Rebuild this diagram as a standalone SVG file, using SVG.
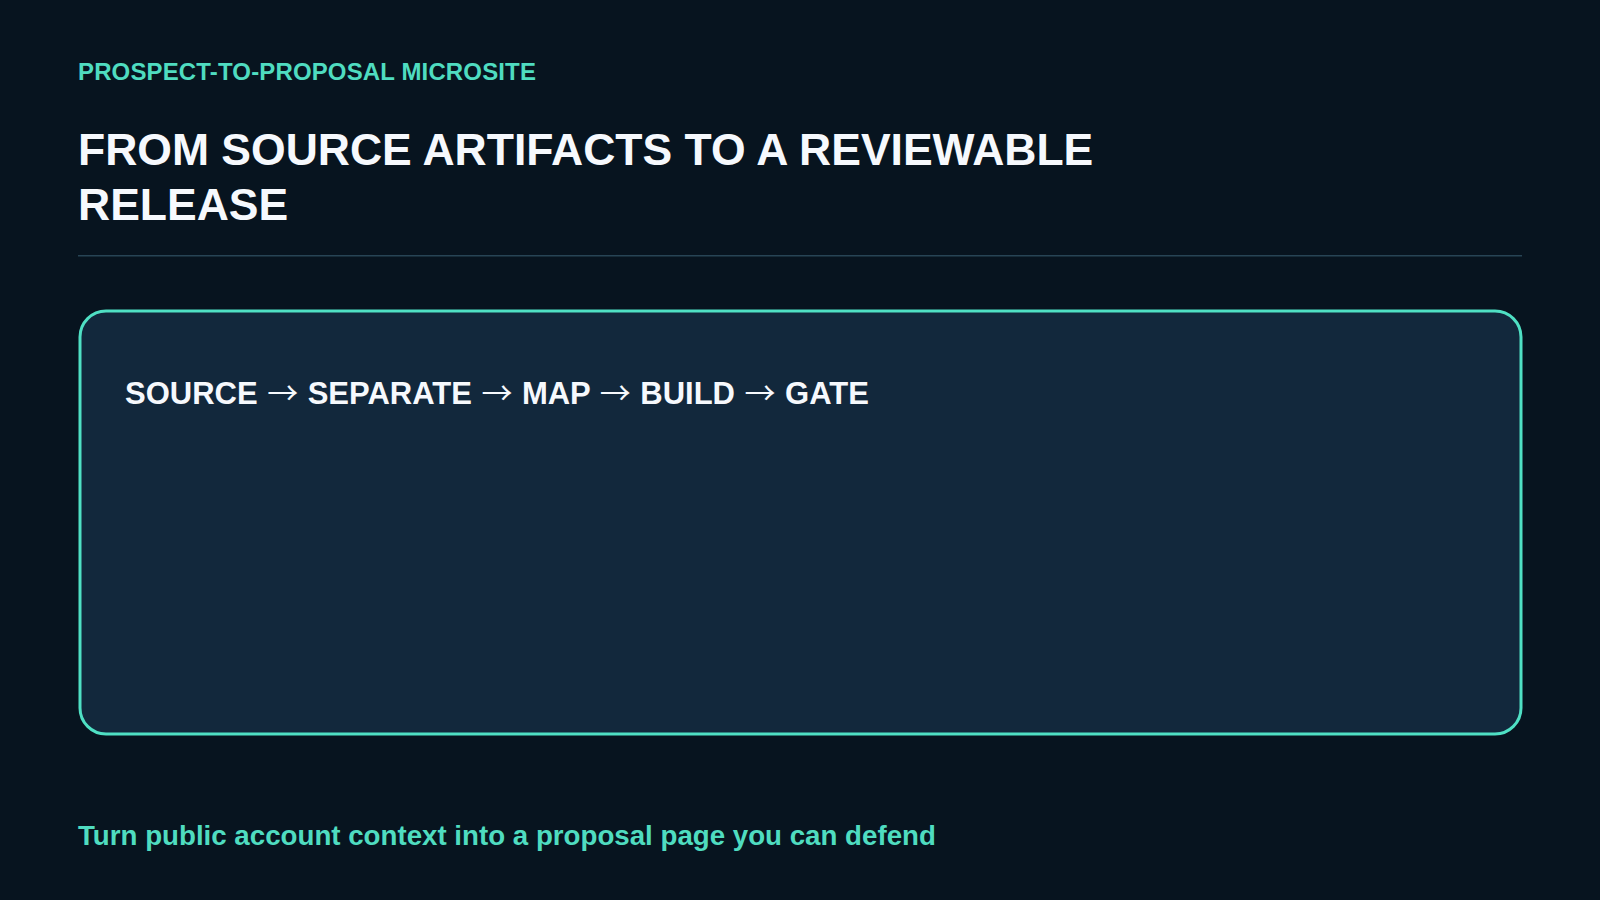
<svg xmlns="http://www.w3.org/2000/svg" width="1600" height="900" viewBox="0 0 1600 900">
  <style>
    .f { font-family: "Liberation Sans", Arial, sans-serif; font-weight: 700; }
    .eyebrow { font-size: 24px; letter-spacing: 0.14px; fill: #4fdcc0; }
    .title { font-size: 44.5px; fill: #f6f9fd; }
    .flow { font-size: 31px; word-spacing: 0.9px; fill: #f6f9fd; }
    .arr { font-family: "Noto Sans CJK SC", sans-serif; font-weight: 400; }
    .foot { font-size: 27.7px; fill: #4fdcc0; }
  </style>
  <rect x="0" y="0" width="1600" height="900" fill="#07141f"/>
  <g id="header">
    <text class="f eyebrow" x="78" y="80">PROSPECT-TO-PROPOSAL MICROSITE</text>
    <text class="f title" x="78" y="165">FROM SOURCE ARTIFACTS TO A REVIEWABLE</text>
    <text class="f title" x="78" y="220">RELEASE</text>
    <rect x="78" y="255" width="1444" height="1.5" fill="#274455"/>
  </g>
  <g id="panel">
    <rect x="80" y="311" width="1441" height="423" rx="26" ry="26" fill="#12283c" stroke="#4fe0c4" stroke-width="3"/>
    <text class="f flow" x="125" y="404">SOURCE <tspan class="arr">→</tspan> SEPARATE <tspan class="arr">→</tspan> MAP <tspan class="arr">→</tspan> BUILD <tspan class="arr">→</tspan> GATE</text>
  </g>
  <g id="connectors"/>
  <g id="footer">
    <text class="f foot" x="78" y="845">Turn public account context into a proposal page you can defend</text>
  </g>
</svg>
